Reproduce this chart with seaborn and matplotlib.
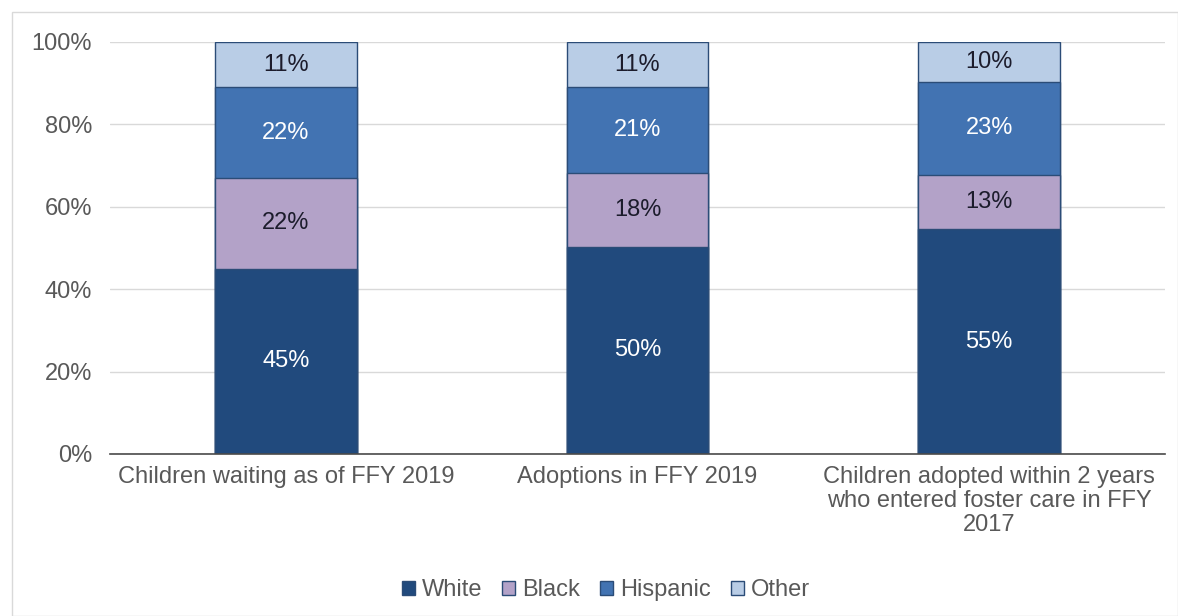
import matplotlib
matplotlib.use("Agg")
import matplotlib.pyplot as plt
import seaborn as sns
import pandas as pd
import numpy as np
from matplotlib.patches import Patch, Rectangle

categories = ["Children waiting as of FFY 2019",
              "Adoptions in FFY 2019",
              "Children adopted within 2 years\nwho entered foster care in FFY\n2017"]
series = ["White", "Black", "Hispanic", "Other"]
white = [45.0, 50.3, 54.6]
black = [22.0, 17.8, 13.1]
hispanic = [22.0, 20.9, 22.7]
other = [11.0, 11.0, 9.6]
labels_white = ["45%", "50%", "55%"]
labels_black = ["22%", "18%", "13%"]
labels_hispanic = ["22%", "21%", "23%"]
labels_other = ["11%", "11%", "10%"]
yticks = [0, 20, 40, 60, 80, 100]
ytick_labels = ["0%", "20%", "40%", "60%", "80%", "100%"]

colors = {"White": "#214a7d", "Black": "#b3a2c8", "Hispanic": "#4273b2", "Other": "#b9cde6"}
text_colors = {"White": "white", "Black": "#1c1c2c", "Hispanic": "white", "Other": "#1c1c2c"}
edge = "#2b4c77"
FS = 17

sns.set_theme(style="white")
plt.rcParams["font.family"] = ["Liberation Sans", "DejaVu Sans"]

fig = plt.figure(figsize=(11.78, 6.16), dpi=100)
ax = fig.add_axes([110/1178, 1-454/616, (1165-110)/1178, (454-42)/616])

vals = {"White": white, "Black": black, "Hispanic": hispanic, "Other": other}
labs = {"White": labels_white, "Black": labels_black, "Hispanic": labels_hispanic, "Other": labels_other}

cum = np.zeros(len(categories))
cums = {}
for s in series:
    bottom = cum.copy()
    cum = cum + np.array(vals[s])
    cums[s] = (bottom, cum.copy())

# draw tallest cumulative first so lower segments overlay
for s in reversed(series):
    df = pd.DataFrame({"cat": categories, "val": cums[s][1]})
    sns.barplot(data=df, x="cat", y="val", color=colors[s], width=0.403,
                edgecolor=edge, linewidth=1.0, saturation=1, ax=ax, zorder=3)

for s in series:
    bottom, top = cums[s]
    for i in range(len(categories)):
        ax.text(i, (bottom[i] + top[i]) / 2, labs[s][i], ha="center", va="center",
                fontsize=FS, color=text_colors[s], zorder=5)

ax.set_ylim(0, 100)
ax.set_xlim(-0.5, 2.5)
ax.set_yticks(yticks)
ax.set_yticklabels(ytick_labels)
ax.yaxis.grid(True, color="#d9d9d9", linewidth=1.0, zorder=0)
ax.set_axisbelow(True)
for sp in ["top", "right", "left"]:
    ax.spines[sp].set_visible(False)
ax.spines["bottom"].set_color("#4a4a4a")
ax.spines["bottom"].set_linewidth(1.2)
ax.spines["bottom"].set_zorder(4)
ax.tick_params(axis="y", length=0, pad=13, labelsize=FS, labelcolor="#595959")
ax.tick_params(axis="x", length=0, pad=9, labelsize=FS, labelcolor="#595959")
ax.set_xlabel("")
ax.set_ylabel("")
for t in ax.get_xticklabels():
    t.set_linespacing(1.1)

handles = [Patch(facecolor=colors[s], edgecolor=edge, linewidth=1.0, label=s) for s in series]
leg = fig.legend(handles=handles, loc="center", bbox_to_anchor=(606/1178, 1-590/616), ncol=4,
                 frameon=False, fontsize=FS, handlelength=0.55, handleheight=0.55,
                 handletextpad=0.3, columnspacing=0.85, labelcolor="#595959")

fig.patches.append(Rectangle((12/1178, 0), 1 - 12/1178 - 0.5/1178, 1 - 12/616, transform=fig.transFigure,
                             fill=False, edgecolor="#d9d9d9", linewidth=1.0))

fig.savefig("out.png", dpi=100)
